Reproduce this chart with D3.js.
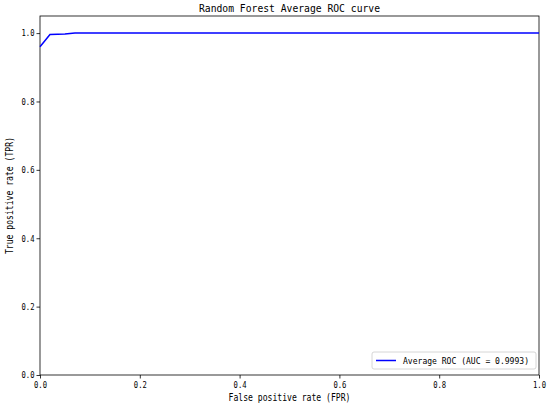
<!DOCTYPE html>
<html>
<head>
<meta charset="utf-8">
<script src="https://cdn.jsdelivr.net/npm/d3@7"></script>
<style>
  body { margin: 0; background: #fff; }
  text { font-family: "DejaVu Sans Mono", monospace; fill: #000; }
</style>
</head>
<body>
<div id="chart"></div>
<script>
// ROC data
const fprValues = [0, 0.02, 0.05, 0.07, 1.0];
const tprValues = [0.96, 0.996, 0.997, 1.0, 1.0];
const xTicks = [0, 0.2, 0.4, 0.6, 0.8, 1.0];
const yTicks = [0, 0.2, 0.4, 0.6, 0.8, 1.0];
const legendLabel = "Average ROC (AUC = 0.9993)";

const width = 550, height = 407;
const margin = { top: 16, right: 11, bottom: 32, left: 40 };
const innerW = width - margin.left - margin.right;
const innerH = height - margin.top - margin.bottom;

const svg = d3.select("#chart").append("svg")
    .attr("width", width)
    .attr("height", height);

const g = svg.append("g")
    .attr("transform", `translate(${margin.left},${margin.top})`);

const x = d3.scaleLinear().domain([0, 1]).range([0, innerW]);
const y = d3.scaleLinear().domain([0, 1.05]).range([innerH, 0]);

// axes
const xAxis = g.append("g")
    .attr("transform", `translate(0,${innerH})`)
    .call(d3.axisBottom(x).tickValues(xTicks).tickFormat(d3.format(".1f")).tickSize(3.5).tickPadding(3));
const yAxis = g.append("g")
    .call(d3.axisLeft(y).tickValues(yTicks).tickFormat(d3.format(".1f")).tickSize(3.5).tickPadding(2));
[xAxis, yAxis].forEach(a => {
    a.selectAll("path").remove();
    a.selectAll("line").attr("stroke", "#000").attr("stroke-width", 0.8);
    a.selectAll("text").style("font-size", "9px").attr("font-family", null)
        .attr("textLength", 13).attr("lengthAdjust", "spacingAndGlyphs");
});

// frame
g.append("rect")
    .attr("width", innerW)
    .attr("height", innerH)
    .attr("fill", "none")
    .attr("stroke", "#000")
    .attr("stroke-width", 0.8);

// curve
const line = d3.line()
    .x((d, i) => x(fprValues[i]))
    .y(d => y(d));

g.append("path")
    .datum(tprValues)
    .attr("d", line)
    .attr("fill", "none")
    .attr("stroke", "#0000ff")
    .attr("stroke-width", 1.5);

// title and labels
svg.append("text")
    .attr("x", margin.left + innerW / 2)
    .attr("y", 11.5)
    .attr("text-anchor", "middle")
    .attr("textLength", 181)
    .attr("lengthAdjust", "spacingAndGlyphs")
    .style("font-size", "11px")
    .text("Random Forest Average ROC curve");

svg.append("text")
    .attr("x", margin.left + innerW / 2)
    .attr("y", 401)
    .attr("text-anchor", "middle")
    .attr("textLength", 122)
    .attr("lengthAdjust", "spacingAndGlyphs")
    .style("font-size", "10px")
    .text("False positive rate (FPR)");

svg.append("text")
    .attr("transform", `translate(13,${margin.top + innerH / 2}) rotate(-90)`)
    .attr("text-anchor", "middle")
    .attr("textLength", 117)
    .attr("lengthAdjust", "spacingAndGlyphs")
    .style("font-size", "10px")
    .text("True positive rate (TPR)");

// legend
const legend = g.append("g")
    .attr("transform", `translate(${innerW - 167},${innerH - 23})`);
legend.append("rect")
    .attr("width", 164)
    .attr("height", 17)
    .attr("rx", 2)
    .attr("fill", "#fff")
    .attr("stroke", "#ccc")
    .attr("stroke-width", 0.8);
legend.append("line")
    .attr("x1", 4).attr("x2", 24)
    .attr("y1", 8.5).attr("y2", 8.5)
    .attr("stroke", "#0000ff")
    .attr("stroke-width", 1.5);
legend.append("text")
    .attr("x", 31)
    .attr("y", 12)
    .attr("textLength", 126)
    .attr("lengthAdjust", "spacingAndGlyphs")
    .style("font-size", "9px")
    .text(legendLabel);
</script>
</body>
</html>
